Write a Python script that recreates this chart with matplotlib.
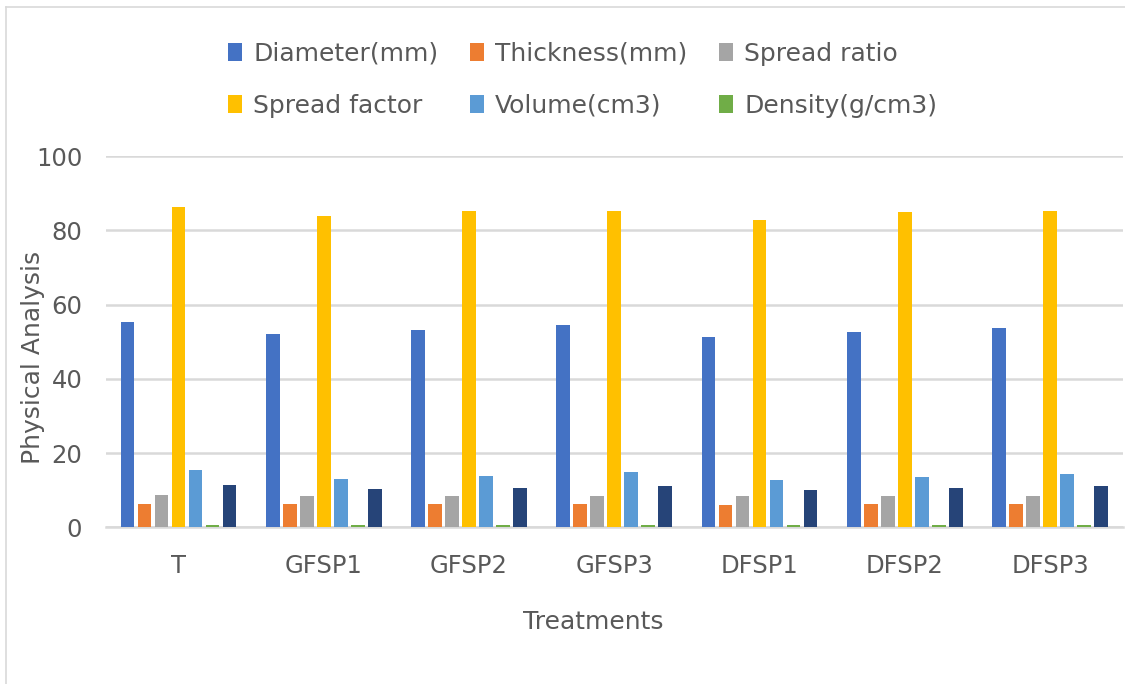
import matplotlib
matplotlib.use("Agg")
import matplotlib.pyplot as plt
import numpy as np
from matplotlib.lines import Line2D

# ---------------------------------------------------------------------------
# Data
# ---------------------------------------------------------------------------
treatments = ["T", "GFSP1", "GFSP2", "GFSP3", "DFSP1", "DFSP2", "DFSP3"]

diameter = [55.4, 52.0, 53.1, 54.4, 51.3, 52.7, 53.8]
thickness = [6.4, 6.3, 6.2, 6.3, 6.1, 6.2, 6.3]
spread_ratio = [8.7, 8.4, 8.4, 8.4, 8.3, 8.4, 8.5]
spread_factor = [86.4, 83.9, 85.1, 85.2, 82.9, 84.9, 85.3]
volume = [15.4, 13.0, 13.8, 14.8, 12.7, 13.5, 14.4]
density = [0.7, 0.7, 0.7, 0.7, 0.7, 0.7, 0.7]
weight = [11.4, 10.2, 10.7, 11.1, 10.0, 10.5, 11.1]  # dark bar, not in legend

series_names = ["Diameter(mm)", "Thickness(mm)", "Spread ratio",
                "Spread factor", "Volume(cm3)", "Density(g/cm3)", "_weight"]
series_values = [diameter, thickness, spread_ratio, spread_factor,
                 volume, density, weight]
colors = ["#4472C4", "#ED7D31", "#A5A5A5", "#FFC000",
          "#5B9BD5", "#70AD47", "#264478"]

TEXT = "#595959"
GRID = "#D9D9D9"

# ---------------------------------------------------------------------------
# Figure
# ---------------------------------------------------------------------------
fig = plt.figure(figsize=(11.25, 6.84), dpi=100)
ax = fig.add_axes([0.0941, 0.2291, 0.9039, 0.5428])

x = np.arange(len(treatments))
step = 0.117
width = 0.094
handles = []
for i, (name, vals, col) in enumerate(zip(series_names, series_values, colors)):
    b = ax.bar(x + (i - 3) * step, vals, width, color=col, label=name,
               zorder=3)
    handles.append(b)

ax.set_xlim(-0.5, len(treatments) - 0.5)
ax.set_ylim(0, 100)
ax.set_yticks([0, 20, 40, 60, 80, 100])
ax.yaxis.grid(True, color=GRID, linewidth=1.8, zorder=0)
ax.set_axisbelow(True)
for s in ["top", "right", "left"]:
    ax.spines[s].set_visible(False)
ax.spines["bottom"].set_color(GRID)
ax.spines["bottom"].set_linewidth(1.8)
ax.set_xticks(x)
ax.set_xticklabels(treatments)
ax.tick_params(axis="both", length=0, labelsize=17.5, colors=TEXT)
ax.tick_params(axis="y", pad=17)
ax.tick_params(axis="x", pad=19)

# axis titles (placed on the figure like Excel does)
fig.text(33 / 1125, 1 - 357 / 684, "Physical Analysis", rotation=90,
         ha="center", va="center", fontsize=18, color=TEXT)
fig.text(593 / 1125, 1 - 622 / 684, "Treatments",
         ha="center", va="center", fontsize=18, color=TEXT)

# legend: two rows of three, row-major order
order = [0, 3, 1, 4, 2, 5]
leg = fig.legend([handles[k] for k in order],
                 [series_names[k] for k in order],
                 ncol=3, loc="upper left",
                 bbox_to_anchor=(228 / 1125, 1 - 42 / 684),
                 frameon=False, fontsize=18, labelcolor=TEXT,
                 handlelength=0.55, handleheight=0.75, handletextpad=0.45,
                 columnspacing=1.28, labelspacing=1.1, borderpad=0,
                 borderaxespad=0)

# chart area border (left and top visible in the crop)
fig.add_artist(Line2D([6 / 1125, 6 / 1125], [0, 1 - 7 / 684],
                      transform=fig.transFigure, color=GRID, linewidth=1.2))
fig.add_artist(Line2D([6 / 1125, 1], [1 - 7 / 684, 1 - 7 / 684],
                      transform=fig.transFigure, color=GRID, linewidth=1.2))

fig.savefig("out.png", dpi=100)
